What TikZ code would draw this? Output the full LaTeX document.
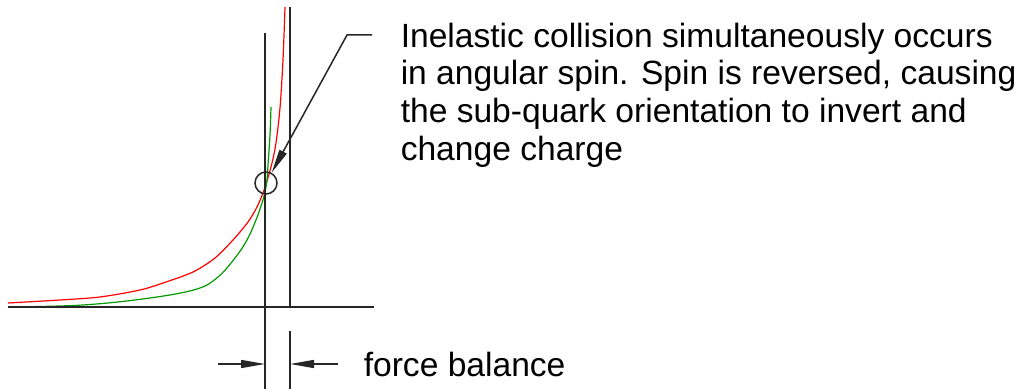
\documentclass[tikz,border=0pt]{standalone}
\usepackage{fontspec}
\setmainfont{Liberation Sans}
\usetikzlibrary{arrows.meta, positioning}

\begin{document}
\begin{tikzpicture}[x=0.5pt, y=-0.5pt, line width=0.75pt,
  tiparrow/.style={-{Triangle[length=12pt, width=4pt]}},
  labeltext/.style={font=\fontsize{16.8}{18.85}\selectfont, inner sep=0pt}]
  \useasboundingbox (0,0) rectangle (1027,389);
  \draw[red, line width=0.6pt] plot[smooth, tension=0.5] coordinates {(8,303) (60,300) (100,297) (140,290) (163,283) (193,272) (215,258) (233,240) (248,222) (257,207) (263,193) (267,181) (272,163) (276,143) (280,108) (283,60) (285,7)};
  \draw[green!60!black, line width=0.6pt] plot[smooth, tension=0.6] coordinates {(8,307) (83,305) (150,298) (197,289) (218,277) (235,258) (247,240) (256,220) (262,203) (265,192) (267,180) (268,165) (270,135) (271,107)};
  \draw[black!85] (8,307) -- (374,307);
  \draw[black!85] (265,33) -- (265,389);
  \draw[black!85] (290,7) -- (290,307);
  \draw[black!85] (290,331) -- (290,389);
  \node[circle, draw=black!85, minimum size=11pt, inner sep=0pt] (spot) at (266,183) {};
  \coordinate (shelf) at (372,35);
  \coordinate (bend) at (347,35);
  \draw[black!85, tiparrow] (shelf) -- (bend) -- (spot);
  \coordinate (ltail) at (218,364);
  \coordinate (lhead) at (265,364);
  \coordinate (rtail) at (338,364);
  \coordinate (rhead) at (290,364);
  \draw[black!85, tiparrow] (ltail) -- (lhead);
  \draw[black!85, tiparrow] (rtail) -- (rhead);
  \node[labeltext, anchor=north west, align=left] (note) at (400,22) {Inelastic collision simultaneously occurs\\ in angular spin. Spin is reversed, causing\\ the sub-quark orientation to invert and\\ change charge};
  \node[labeltext, anchor=base west] (balance) at (363,377) {force balance};
\end{tikzpicture}
\end{document}
